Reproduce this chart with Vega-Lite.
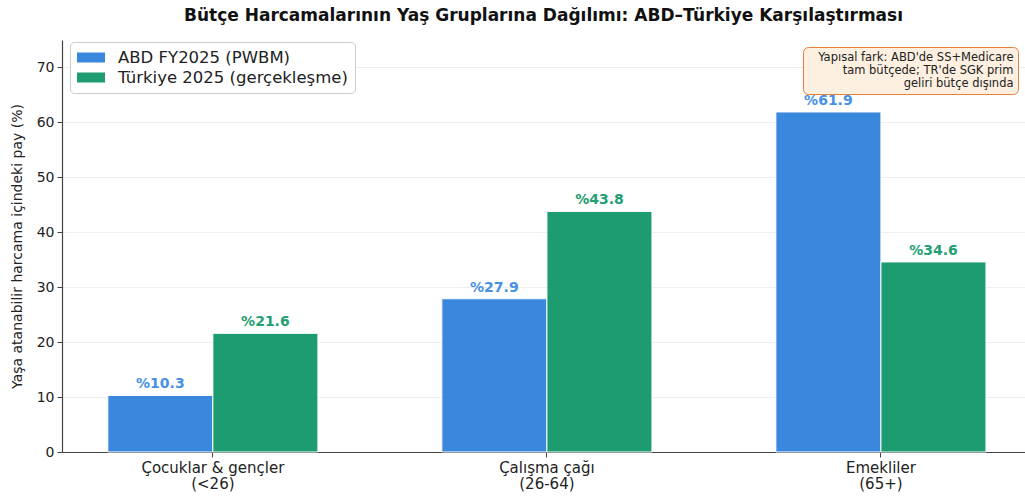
{
  "$schema": "https://vega.github.io/schema/vega-lite/v6.json",
  "width": 963,
  "height": 412,
  "autosize": {"type": "none"},
  "padding": {"left": 62, "top": 40, "right": 0, "bottom": 44},
  "background": "white",
  "title": {
    "text": "Bütçe Harcamalarının Yaş Gruplarına Dağılımı: ABD–Türkiye Karşılaştırması",
    "font": "DejaVu Sans",
    "fontSize": 17,
    "fontWeight": "bold",
    "color": "#111111",
    "anchor": "middle",
    "offset": 15
  },
  "config": {
    "font": "DejaVu Sans",
    "view": {"stroke": null},
    "axis": {
      "labelFont": "DejaVu Sans",
      "titleFont": "DejaVu Sans",
      "labelFontSize": 14,
      "labelColor": "#222222",
      "titleFontSize": 14,
      "titleFontWeight": "normal",
      "titleColor": "#222222",
      "domainColor": "#444444",
      "domainWidth": 1.2,
      "tickColor": "#444444",
      "tickSize": 5,
      "gridColor": "#eeeeee"
    },
    "legend": {"labelFont": "DejaVu Sans"}
  },
  "layer": [
    {
      "data": {
        "values": [
          {"group": "Çocuklar & gençler\n(<26)", "series": "ABD FY2025 (PWBM)", "value": 10.3, "label": "%10.3"},
          {"group": "Çocuklar & gençler\n(<26)", "series": "Türkiye 2025 (gerçekleşme)", "value": 21.6, "label": "%21.6"},
          {"group": "Çalışma çağı\n(26-64)", "series": "ABD FY2025 (PWBM)", "value": 27.9, "label": "%27.9"},
          {"group": "Çalışma çağı\n(26-64)", "series": "Türkiye 2025 (gerçekleşme)", "value": 43.8, "label": "%43.8"},
          {"group": "Emekliler\n(65+)", "series": "ABD FY2025 (PWBM)", "value": 61.9, "label": "%61.9"},
          {"group": "Emekliler\n(65+)", "series": "Türkiye 2025 (gerçekleşme)", "value": 34.6, "label": "%34.6"}
        ]
      },
      "encoding": {
        "x": {
          "field": "group",
          "type": "nominal",
          "sort": null,
          "scale": {"paddingInner": 0.371, "paddingOuter": 0.127, "align": 0.54},
          "axis": {
            "title": null,
            "labelAngle": 0,
            "labelExpr": "split(datum.label, '\\n')",
            "labelFontSize": 15,
            "labelLineHeight": 16,
            "labelPadding": 3,
            "bandPosition": 0.5,
            "grid": false,
            "labelLimit": 300
          }
        },
        "xOffset": {"field": "series", "type": "nominal", "sort": null, "scale": {"paddingInner": 0}},
        "y": {
          "field": "value",
          "type": "quantitative",
          "scale": {"domain": [0, 75], "nice": false},
          "axis": {
            "title": "Yaşa atanabilir harcama içindeki pay (%)",
            "values": [0, 10, 20, 30, 40, 50, 60, 70],
            "grid": true,
            "titlePadding": 12,
            "labelPadding": 3
          }
        }
      },
      "layer": [
        {
          "mark": {"type": "bar", "stroke": "white", "strokeWidth": 1, "opacity": 0.92},
          "encoding": {
            "color": {
              "field": "series",
              "type": "nominal",
              "sort": null,
              "scale": {"domain": ["ABD FY2025 (PWBM)", "Türkiye 2025 (gerçekleşme)"], "range": ["#297edb", "#0c9466"]},
              "legend": {
                "title": null,
                "orient": "none",
                "legendX": 8,
                "legendY": 2,
                "padding": 7,
                "fillColor": "white",
                "strokeColor": "#cccccc",
                "cornerRadius": 4,
                "symbolType": "M-1,-0.357L1,-0.357L1,0.357L-1,0.357Z",
                "symbolSize": 784,
                "symbolStrokeWidth": 0,
                "symbolOpacity": 0.92,
                "clipHeight": 17,
                "rowPadding": 3,
                "labelOffset": 13,
                "labelFontSize": 16.5,
                "labelColor": "#222222",
                "labelLimit": 400
              }
            }
          }
        },
        {
          "mark": {"type": "text", "baseline": "bottom", "dy": -4, "fontSize": 14, "fontWeight": "bold", "font": "DejaVu Sans"},
          "encoding": {
            "text": {"field": "label"},
            "color": {
              "condition": {"test": "datum.series === 'ABD FY2025 (PWBM)'", "value": "#4691e6"},
              "value": "#22a071"
            }
          }
        }
      ]
    },
    {
      "data": {
        "values": [
          {"note": "Yapısal fark: ABD'de SS+Medicare"},
          {"note": "tam bütçede; TR'de SGK prim"},
          {"note": "geliri bütçe dışında"}
        ]
      },
      "mark": {"type": "point", "opacity": 0, "size": 0},
      "encoding": {
        "shape": {
          "field": "note",
          "type": "nominal",
          "sort": null,
          "scale": {"range": ["circle", "circle", "circle"]},
          "legend": {
            "title": null,
            "orient": "top-right",
            "offset": 7,
            "padding": 4,
            "fillColor": "#fdf0e1",
            "strokeColor": "#e8803a",
            "cornerRadius": 5,
            "symbolSize": 0,
            "symbolOpacity": 0,
            "symbolStrokeWidth": 0,
            "labelOffset": 195,
            "labelFontSize": 11.5,
            "labelColor": "#222222",
            "labelAlign": "right",
            "rowPadding": 0,
            "clipHeight": 13,
            "labelLimit": 400,
            "encode": {"legend": {"update": {"strokeWidth": {"value": 1.5}}}}
          }
        }
      }
    }
  ]
}
